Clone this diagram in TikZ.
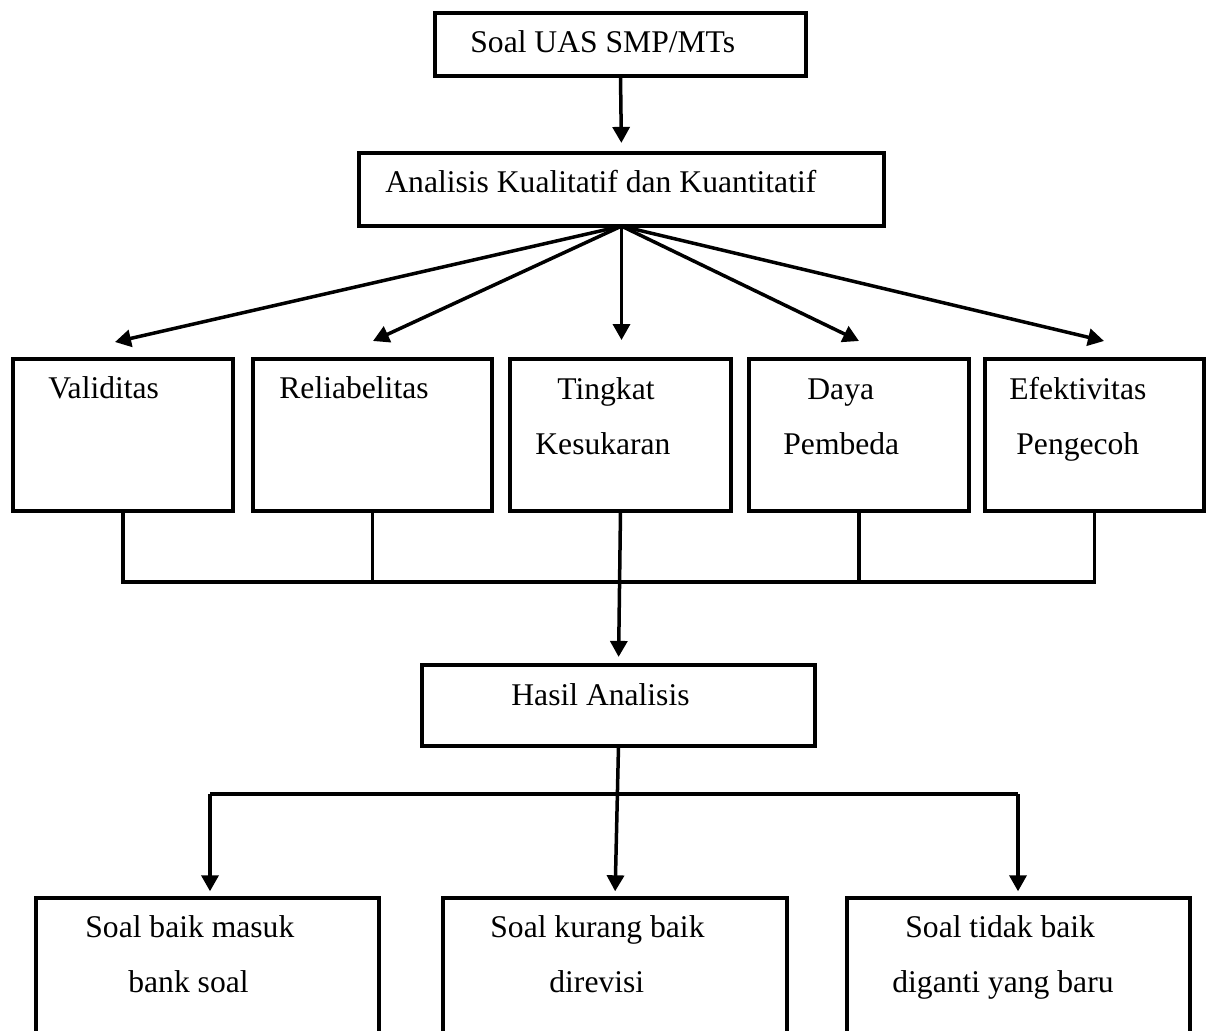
\documentclass[tikz,border=0pt]{standalone}
\usepackage{fontspec}
\setmainfont{Liberation Serif}
\usetikzlibrary{arrows.meta}
\tikzset{
  box/.style={draw, line width=1.9pt, inner sep=0pt, outer sep=0pt, rectangle},
  txt/.style={inner sep=0pt, anchor=base west, font=\fontsize{15.8pt}{19pt}\selectfont},
  conn/.style={line width=1.75pt, line join=miter},
  arr/.style={conn, -{Triangle[length=8pt,width=8.5pt]}},
}
\newcommand{\mkbox}[5]{\node[box, minimum width={(#4-#2-3.8)*0.5pt}, minimum height={(#5-#3-3.8)*0.5pt}] (#1) at ({(#2+#4)/2},{(#3+#5)/2}) {};}
\begin{document}
\begin{tikzpicture}[x=0.5pt,y=-0.5pt]
\useasboundingbox (0,0) rectangle (1216,1030);
\clip (0,0) rectangle (1216,1030);

% boxes
\mkbox{b1}{433}{11}{808}{78}
\mkbox{b2}{357}{151}{886}{228}
\mkbox{v}{11}{357}{235}{513}
\mkbox{r}{251}{357}{494}{513}
\mkbox{t}{508}{357}{733}{513}
\mkbox{d}{747}{357}{971}{513}
\mkbox{e}{983}{357}{1206}{513}
\mkbox{h}{420}{663}{817}{748}
\mkbox{bl}{34}{896}{381}{1045}
\mkbox{bm}{441}{896}{789}{1045}
\mkbox{br}{845}{896}{1192}{1045}

% texts
\node[txt] (tb1) at (470,52) {Soal UAS SMP/MTs};
\node[txt] (tb2) at (385,192) {Analisis Kualitatif dan Kuantitatif};
\node[txt] (tv) at (48,398) {Validitas};
\node[txt] (tr) at (279,398) {Reliabelitas};
\node[txt] (tt1) at (557,399) {Tingkat};
\node[txt] (tt2) at (535,454) {Kesukaran};
\node[txt] (td1) at (807,399) {Daya};
\node[txt] (td2) at (783,454) {Pembeda};
\node[txt] (te1) at (1009,399) {Efektivitas};
\node[txt] (te2) at (1016,454) {Pengecoh};
\node[txt] (th) at (511,705) {Hasil Analisis};
\node[txt] (tl1) at (85,937) {Soal baik masuk};
\node[txt] (tl2) at (128,992) {bank soal};
\node[txt] (tm1) at (490,937) {Soal kurang baik};
\node[txt] (tm2) at (549,992) {direvisi};
\node[txt] (tr1) at (905,937) {Soal tidak baik};
\node[txt] (tr2) at (892,992) {diganti yang baru};

% top arrow
\draw[arr, shorten >=5pt] (b1.south) -- (b2.north);

% fan arrows
\coordinate (a1) at (115,342);
\coordinate (a2) at (373,341);
\coordinate (a3) at (621.5,340);
\coordinate (a4) at (859,341);
\coordinate (a5) at (1104,341);
\draw[arr] (b2.south) -- (a1);
\draw[arr] (b2.south) -- (a2);
\draw[arr] (b2.south) -- (a3);
\draw[arr] (b2.south) -- (a4);
\draw[arr] (b2.south) -- (a5);

% bus below row
\coordinate (bus) at (0,582);
\draw[conn] (v.south) -- (v.south |- bus) -- (e.south |- bus) -- (e.south);
\draw[conn] (r.south) -- (r.south |- bus);
\draw[conn] (d.south) -- (d.south |- bus);
\draw[arr, shorten >=4pt] (t.south) -- (h.north);

% lower branch
\coordinate (jl) at (210,794);
\coordinate (jr) at (1018,794);
\draw[conn] (jl) -- (jr);
\draw[arr, shorten >=3.3pt] (h.south) -- (bm.north);
\draw[arr, shorten >=3.3pt] (jl) -- (jl |- bl.north);
\draw[arr, shorten >=3.3pt] (jr) -- (jr |- br.north);
\end{tikzpicture}
\end{document}
